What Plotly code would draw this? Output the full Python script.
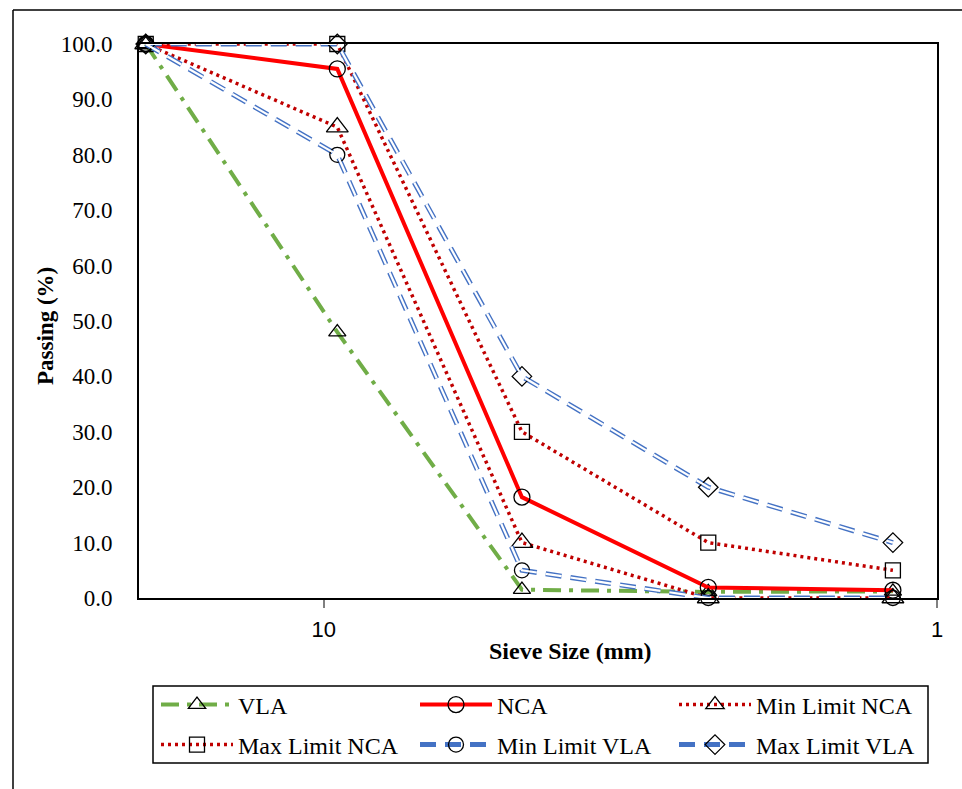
import plotly.graph_objects as go

sieve_mm = [19.5, 9.5, 4.75, 2.36, 1.18]
vla = [100, 48.0, 1.5, 1.1, 1.2]
nca = [100, 95.5, 18.2, 1.9, 1.4]
min_nca = [100, 85, 10, 0, 0]
max_nca = [100, 100, 30, 10, 5]
min_vla = [100, 80, 5, 0, 0]
max_vla = [100, 100, 40, 20, 10]
y_ticks = [0, 10, 20, 30, 40, 50, 60, 70, 80, 90, 100]
x_ticks = [10, 1]

W, H = 962, 789
L, R, T, B = 139, 25, 44, 191
pw, ph = W - L - R, H - T - B

def px_x(p):
    return (p - L) / pw

def px_y(p):
    return (H - B - p) / ph

SERIF = "Liberation Serif, Times New Roman, serif"
GREEN = "#70AD47"
RED = "#FF0000"
DRED = "#C00000"
BLUE = "#4472C4"
BDASH = "16px,9px"

fig = go.Figure()

def mk(sym, size):
    return dict(symbol=sym, size=size, color="rgba(0,0,0,0)",
                line=dict(color="black", width=1.3))

# row 1 legend
fig.add_trace(go.Scatter(x=sieve_mm, y=vla, name="VLA", mode="lines+markers",
                         line=dict(color=GREEN, width=4, dash="18px,8px,4px,8px"),
                         marker=mk("triangle-up", 15), legend="legend", cliponaxis=False))
fig.add_trace(go.Scatter(x=sieve_mm, y=nca, name="NCA", mode="lines+markers",
                         line=dict(color=RED, width=4),
                         marker=mk("circle", 16), legend="legend", cliponaxis=False))
fig.add_trace(go.Scatter(x=sieve_mm, y=min_nca, name="Min Limit NCA", mode="lines+markers",
                         line=dict(color=DRED, width=3.5, dash="3px,4px"),
                         marker=mk("triangle-up", 19), legend="legend", cliponaxis=False))
# row 2 legend
fig.add_trace(go.Scatter(x=sieve_mm, y=max_nca, name="Max Limit NCA", mode="lines+markers",
                         line=dict(color=DRED, width=3.5, dash="3px,4px"),
                         marker=mk("square", 15), legend="legend2", cliponaxis=False))
fig.add_trace(go.Scatter(x=sieve_mm, y=min_vla, name="Min Limit VLA", mode="markers+lines",
                         line=dict(color=BLUE, width=5, dash=BDASH),
                         marker=mk("circle", 15), legend="legend2", cliponaxis=False))
fig.add_trace(go.Scatter(x=sieve_mm, y=max_vla, name="Max Limit VLA", mode="markers+lines",
                         line=dict(color=BLUE, width=5, dash=BDASH),
                         marker=mk("diamond", 15), legend="legend2", cliponaxis=False))
# white cores of the blue double lines
for ys in (min_vla, max_vla):
    fig.add_trace(go.Scatter(x=sieve_mm, y=ys, mode="lines", showlegend=False, cliponaxis=False,
                             line=dict(color="white", width=2.2, dash=BDASH), hoverinfo="skip"))

legend_common = dict(orientation="h", xanchor="left", yanchor="middle",
                     xref="paper", yref="paper", borderwidth=0, bgcolor="rgba(0,0,0,0)",
                     font=dict(family=SERIF, size=24), entrywidth=172,
                     entrywidthmode="pixels", itemwidth=72, traceorder="normal")

fig.update_layout(
    width=W, height=H,
    margin=dict(l=L, r=R, t=T, b=B, autoexpand=False),
    paper_bgcolor="white", plot_bgcolor="white",
    font=dict(family=SERIF, color="black", size=23),
    showlegend=True,
    legend=dict(x=px_x(156), y=px_y(705), **legend_common),
    legend2=dict(x=px_x(156), y=px_y(745), **legend_common),
    xaxis=dict(type="log", range=[1.30103, 0], tickvals=x_ticks, ticktext=["10", "1"],
               showgrid=False, zeroline=False, showline=True, linecolor="black", linewidth=2,
               mirror=True, ticks="outside", ticklen=8, tickcolor="#808080", tickwidth=1.5,
               tickfont=dict(family="Liberation Sans, Arial, sans-serif", size=22),
               ticklabelstandoff=3),
    yaxis=dict(range=[0, 100], tickvals=y_ticks, tickformat=".1f",
               showgrid=False, zeroline=False, showline=True, linecolor="black", linewidth=2,
               mirror=True, ticks="", ticklabelstandoff=20,
               tickfont=dict(family=SERIF, size=23)),
    annotations=[
        dict(text="<b>Sieve Size (mm)</b>", xref="paper", yref="paper", x=px_x(570), y=px_y(651),
             xanchor="center", yanchor="middle",
             showarrow=False, font=dict(family=SERIF, size=24)),
        dict(text="<b>Passing (%)</b>", xref="paper", yref="paper", x=px_x(45), y=px_y(326),
             xanchor="center", yanchor="middle",
             textangle=-90, showarrow=False, font=dict(family=SERIF, size=23)),
    ],
    shapes=[
        dict(type="line", xref="paper", yref="paper", x0=px_x(13), x1=px_x(970), y0=px_y(10), y1=px_y(10),
             line=dict(color="black", width=1.5)),
        dict(type="line", xref="paper", yref="paper", x0=px_x(13), x1=px_x(13), y0=px_y(10), y1=px_y(800),
             line=dict(color="black", width=1.5)),
        dict(type="rect", xref="paper", yref="paper", x0=px_x(153), x1=px_x(928), y0=px_y(686), y1=px_y(763),
             line=dict(color="black", width=1.5), fillcolor="rgba(0,0,0,0)", layer="below"),
    ],
)

fig.write_html("out.html")
